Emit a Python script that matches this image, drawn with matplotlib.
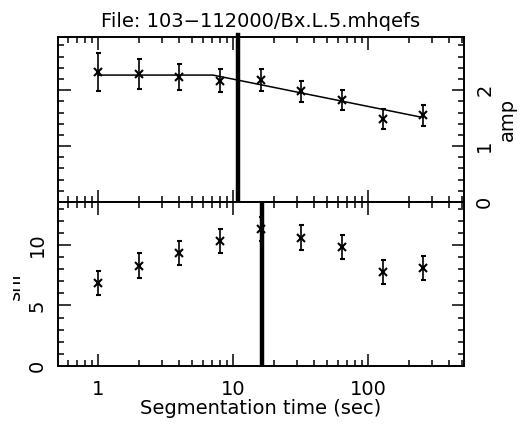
import matplotlib
matplotlib.use('Agg')
import matplotlib.pyplot as plt
from matplotlib.ticker import LogLocator, MultipleLocator, NullFormatter, FixedLocator
from matplotlib.transforms import Bbox

# data
seg_time = [1, 2, 4, 8, 16, 32, 64, 128, 256]
amp = [2.33, 2.29, 2.24, 2.17, 2.18, 1.98, 1.82, 1.48, 1.55]
amp_err = [0.34, 0.27, 0.23, 0.21, 0.19, 0.19, 0.18, 0.18, 0.19]
snr = [6.83, 8.29, 9.36, 10.36, 11.3, 10.6, 9.86, 7.74, 8.07]
snr_err = [1.0, 1.05, 1.0, 1.0, 1.0, 1.05, 1.0, 1.0, 1.0]
fit_t = [1, 7.1, 256]
fit_amp = [2.27, 2.27, 1.51]
amp_break = 10.9
snr_break = 16.4

FS = 14

fig = plt.figure(figsize=(5.22, 4.24), dpi=100)
ax1 = fig.add_axes([0.111, 0.5236, 0.778, 0.389])
ax2 = fig.add_axes([0.111, 0.1368, 0.778, 0.387])


def style_axes(ax):
	ax.set_xscale('log')
	ax.set_xlim(0.505, 514)
	ax.xaxis.set_major_locator(FixedLocator([1, 10, 100]))
	ax.xaxis.set_minor_locator(LogLocator(base=10, subs=range(2, 10), numticks=20))
	ax.xaxis.set_minor_formatter(NullFormatter())
	ax.tick_params(which='both', direction='in', top=True, right=True, width=1.1, colors='black')
	ax.tick_params(which='major', length=9)
	ax.tick_params(which='minor', length=4.5)
	for s in ax.spines.values():
		s.set_linewidth(1.4)


# top panel: amplitude
style_axes(ax1)
ax1.errorbar(seg_time, amp, yerr=amp_err, fmt='x', color='black', ms=6, mew=1.5,
			 elinewidth=1.2, capsize=1.8, capthick=1.2)
ax1.plot(fit_t, fit_amp, color='black', lw=1.1)
ax1.axvline(amp_break, color='black', lw=3.2, clip_on=False, ymax=1.015)
ax1.set_ylim(0, 2.95)
ax1.yaxis.set_major_locator(MultipleLocator(1))
ax1.yaxis.set_minor_locator(MultipleLocator(0.2))
ax1.tick_params(labelbottom=False, labelleft=False, labelright=True, labelsize=FS)
ax1.tick_params(axis='y', which='major', pad=8)
for lab in ax1.get_yticklabels():
	lab.set_rotation(90)
	lab.set_va('center')
ax1.yaxis.set_label_position('right')
ax1.set_ylabel('amp', fontsize=FS, labelpad=3)
ax1.set_title('File: 103\u2212112000/Bx.L.5.mhqefs', fontsize=FS, pad=7)

# bottom panel: snr
style_axes(ax2)
ax2.errorbar(seg_time, snr, yerr=snr_err, fmt='x', color='black', ms=6, mew=1.5,
			 elinewidth=1.2, capsize=1.8, capthick=1.2)
ax2.axvline(snr_break, color='black', lw=3.2)
ax2.set_ylim(0, 13.56)
ax2.yaxis.set_major_locator(MultipleLocator(5))
ax2.yaxis.set_minor_locator(MultipleLocator(1))
ax2.tick_params(labelsize=FS)
ax2.tick_params(axis='x', which='major', pad=10)
ax2.tick_params(axis='y', which='major', pad=8)
for lab in ax2.get_yticklabels():
	lab.set_rotation(90)
	lab.set_va('center')
ax2.set_xticklabels(['1', '10', '100'])
ax2.set_xlabel('Segmentation time (sec)', fontsize=FS, labelpad=0)

# the snr label is cut off by the page edge in the original
t = fig.text(0.046, 0.328, 'snr', rotation=90, fontsize=FS, ha='right', va='center')
t.set_clip_box(Bbox.from_extents(13, 0, 522, 424))
t.set_clip_on(True)

fig.savefig('out.png', dpi=100)
